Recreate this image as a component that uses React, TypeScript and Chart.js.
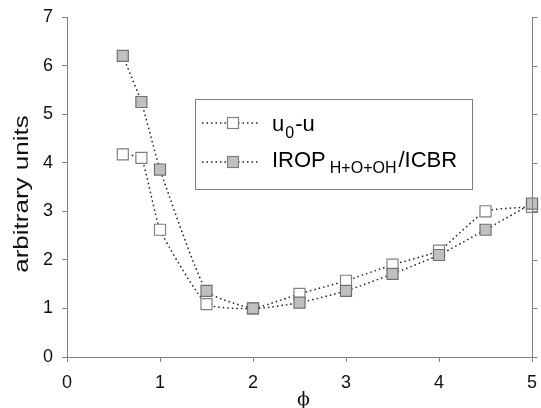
import { useEffect, useRef } from 'react';
import { Chart, registerables } from 'chart.js';

Chart.register(...registerables);

// Equivalence ratio samples
const phi = [0.6, 0.8, 1.0, 1.5, 2.0, 2.5, 3.0, 3.5, 4.0, 4.5, 5.0];
// u0 - u (open squares)
const deltaU = [4.17, 4.1, 2.62, 1.09, 1.0, 1.3, 1.57, 1.9, 2.19, 3.0, 3.09];
// IROP(H+O+OH) / ICBR (grey squares)
const iropRatio = [6.2, 5.25, 3.86, 1.36, 1.0, 1.12, 1.36, 1.71, 2.1, 2.62, 3.16];

const xTicks = [0, 1, 2, 3, 4, 5];
const yTicks = [0, 1, 2, 3, 4, 5, 6, 7];

const SANS = "Arial, 'Liberation Sans', sans-serif";
const SERIF = "'DejaVu Serif', 'Liberation Serif', serif";
const AXIS_GREY = '#808080';
const LINE_DASH = [1.5, 3];

type Part = { text: string; size: number; dy: number; gap?: number };

function drawRich(ctx: CanvasRenderingContext2D, parts: Part[], x: number, baseline: number) {
  let cx = x;
  for (const p of parts) {
    cx += p.gap ?? 0;
    ctx.font = `${p.size}px ${SANS}`;
    ctx.fillText(p.text, cx, baseline + p.dy);
    cx += ctx.measureText(p.text).width;
  }
}

function legendSample(ctx: CanvasRenderingContext2D, y: number, fill: string) {
  ctx.save();
  ctx.strokeStyle = '#222';
  ctx.lineWidth = 1.5;
  ctx.setLineDash(LINE_DASH);
  ctx.beginPath();
  ctx.moveTo(202, y);
  ctx.lineTo(258, y);
  ctx.stroke();
  ctx.setLineDash([]);
  ctx.fillStyle = fill;
  ctx.fillRect(227.5, y - 5.5, 11, 11);
  ctx.strokeStyle = AXIS_GREY;
  ctx.lineWidth = 1.2;
  ctx.strokeRect(227.5, y - 5.5, 11, 11);
  ctx.restore();
}

const decorations = {
  id: 'decorations',
  afterDraw(chart: Chart) {
    const { ctx, chartArea } = chart;
    const yScale = chart.scales.y;

    ctx.save();
    // right-hand frame line with outward ticks
    ctx.strokeStyle = AXIS_GREY;
    ctx.lineWidth = 1;
    const rx = Math.round(chartArea.right) + 0.5;
    ctx.beginPath();
    ctx.moveTo(rx, chartArea.top);
    ctx.lineTo(rx, chartArea.bottom);
    for (const v of yTicks) {
      const py = Math.round(yScale.getPixelForValue(v)) + 0.5;
      ctx.moveTo(rx, py);
      ctx.lineTo(rx + 5, py);
    }
    ctx.stroke();

    // legend box
    ctx.fillStyle = '#fff';
    ctx.fillRect(195.5, 99.5, 277, 90);
    ctx.strokeStyle = AXIS_GREY;
    ctx.strokeRect(195.5, 99.5, 277, 90);
    legendSample(ctx, 123, '#ffffff');
    legendSample(ctx, 162, '#c0c0c0');

    ctx.fillStyle = '#000';
    ctx.textAlign = 'left';
    ctx.textBaseline = 'alphabetic';
    drawRich(ctx, [
      { text: 'u', size: 22, dy: 0 },
      { text: '0', size: 16, dy: 7, gap: 1 },
      { text: '-u', size: 22, dy: 0, gap: 1 },
    ], 272, 131);
    drawRich(ctx, [
      { text: 'IROP', size: 22, dy: 0 },
      { text: 'H+O+OH', size: 16, dy: 6, gap: 4 },
      { text: '/ICBR', size: 22, dy: 0, gap: 2 },
    ], 272, 167);

    // y-axis title
    ctx.save();
    ctx.fillStyle = '#111';
    ctx.translate(27.5, 194);
    ctx.rotate(-Math.PI / 2);
    ctx.scale(1.3, 1);
    ctx.font = `20px ${SANS}`;
    ctx.textAlign = 'center';
    ctx.fillText('arbitrary units', 0, 0);
    ctx.restore();

    // x-axis title
    ctx.fillStyle = '#111';
    ctx.font = `19px ${SERIF}`;
    ctx.textAlign = 'center';
    ctx.textBaseline = 'middle';
    ctx.fillText('ϕ', (chartArea.left + chartArea.right) / 2 + 4, 400);
    ctx.restore();
  },
};

export default function App() {
  const canvasRef = useRef<HTMLCanvasElement | null>(null);

  useEffect(() => {
    const canvas = canvasRef.current;
    if (!canvas) return;

    const chart = new Chart(canvas, {
      type: 'line',
      data: {
        datasets: [
          {
            label: 'u0-u',
            data: phi.map((x, i) => ({ x, y: deltaU[i] })),
            borderColor: '#222',
            borderWidth: 1.5,
            borderDash: LINE_DASH,
            tension: 0.15,
            pointStyle: 'rect',
            pointRadius: 7.8,
            pointBackgroundColor: '#ffffff',
            pointBorderColor: AXIS_GREY,
            pointBorderWidth: 1.2,
            clip: false,
            order: 1,
          },
          {
            label: 'IROP H+O+OH/ICBR',
            data: phi.map((x, i) => ({ x, y: iropRatio[i] })),
            borderColor: '#222',
            borderWidth: 1.5,
            borderDash: LINE_DASH,
            tension: 0.15,
            pointStyle: 'rect',
            pointRadius: 7.8,
            pointBackgroundColor: '#c0c0c0',
            pointBorderColor: '#707070',
            pointBorderWidth: 1.2,
            clip: false,
            order: 0,
          },
        ],
      },
      options: {
        animation: false,
        responsive: false,
        devicePixelRatio: 1,
        layout: { padding: { top: 17, right: 3, left: 0, bottom: 0 } },
        plugins: {
          legend: { display: false },
          tooltip: { enabled: false },
        },
        scales: {
          x: {
            type: 'linear',
            min: 0,
            max: 5,
            afterBuildTicks: (s: any) => {
              s.ticks = xTicks.map((value) => ({ value }));
            },
            afterFit: (s: any) => {
              s.height = 51;
              s.paddingLeft = 0;
              s.paddingRight = 0;
            },
            ticks: {
              font: { family: SANS, size: 18 },
              color: '#111',
              padding: 10,
              maxRotation: 0,
              autoSkip: false,
            },
            grid: { drawOnChartArea: false, drawTicks: true, tickLength: 5, color: AXIS_GREY },
            border: { color: AXIS_GREY, width: 1 },
          },
          y: {
            type: 'linear',
            min: 0,
            max: 7,
            afterBuildTicks: (s: any) => {
              s.ticks = yTicks.map((value) => ({ value }));
            },
            afterFit: (s: any) => {
              s.width = 67;
              s.paddingTop = 0;
              s.paddingBottom = 0;
            },
            ticks: {
              font: { family: SANS, size: 18 },
              color: '#111',
              padding: 9,
              autoSkip: false,
            },
            grid: { drawOnChartArea: false, drawTicks: true, tickLength: 5, color: AXIS_GREY },
            border: { color: AXIS_GREY, width: 1 },
          },
        },
      },
      plugins: [decorations],
    });

    return () => chart.destroy();
  }, []);

  return (
    <div style={{ position: 'fixed', left: 0, top: 0, width: 541, height: 408, background: '#fff' }}>
      <canvas ref={canvasRef} width={541} height={408} />
    </div>
  );
}
